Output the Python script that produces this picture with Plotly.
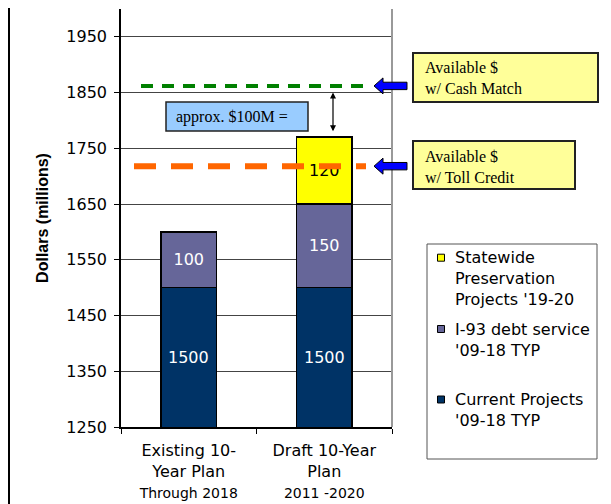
import plotly.graph_objects as go

# ---------------- data ----------------
categories = ["Existing 10-Year Plan", "Draft 10-Year Plan"]
tick_labels = [
    "Existing 10-<br>Year Plan<br><span style='font-size:14px'>Through 2018</span>",
    "Draft 10-Year<br>Plan<br><span style='font-size:14px'>2011 -2020</span>",
]
current_projects = [1500, 1500]
i93_debt_service = [100, 150]
statewide_preservation = [None, 120]

series_values = [current_projects, i93_debt_service, statewide_preservation]
series_names = ["Current Projects<br>'09-18 TYP",
                "I-93 debt service<br>'09-18 TYP",
                "Statewide<br>Preservation<br>Projects '19-20"]
series_colors = ["#003366", "#666699", "#FFFF00"]
label_colors = ["white", "white", "black"]

cash_match_level = 1862     # Available $ w/ Cash Match
toll_credit_level = 1718    # Available $ w/ Toll Credit
gap_top, gap_bottom = 1850, 1778   # approx. $100M span

y_range = [1250, 2000]
y_ticks = [1250, 1350, 1450, 1550, 1650, 1750, 1850, 1950]

# ---------------- layout geometry (page pixels) ----------------
PAGE_W, PAGE_H = 611, 504
OFF = 8                      # default body margin of the page
W, H = PAGE_W - OFF, PAGE_H - OFF
L, R, T, B = 121, 392, 9, 427   # plot area in page pixels
def px(x):
    return (x - L) / (R - L)
def py(y):
    return (B - y) / (B - T)
unit_per_px = (y_range[1] - y_range[0]) / (B - T)

SANS = "DejaVu Sans"
SERIF = "Liberation Serif"

annotations = []
shapes = []

fig = go.Figure()
cum = [0, 0]
for vals, name, col, tcol in zip(series_values, series_names, series_colors, label_colors):
    texts = []
    for i, v in enumerate(vals):
        if v is None:
            texts.append("")
            continue
        base = cum[i]
        top = base + v
        cum[i] = top
        if base >= y_range[0]:
            texts.append(str(v))          # segment fully visible: label on the bar itself
        else:
            texts.append("")              # segment clipped by the axis: label the visible part
            annotations.append(dict(x=categories[i], y=(y_range[0] + top) / 2,
                                    xref="x", yref="y", text=str(v), showarrow=False,
                                    font=dict(family=SANS, size=16, color=tcol)))
    fig.add_trace(go.Bar(
        x=categories, y=vals, name=name,
        marker=dict(color=col, line=dict(color="black", width=1.5)),
        text=texts,
        textposition="inside", insidetextanchor="middle", textangle=0,
        insidetextfont=dict(family=SANS, size=16, color=tcol),
        constraintext="none",
        showlegend=False,
    ))

# outer border (left edge kept inside the drawable area)
shapes.append(dict(type="rect", xref="paper", yref="paper",
                   x0=px(9), x1=px(610), y0=py(520), y1=py(-10),
                   line=dict(color="black", width=2), layer="above"))
# right edge of plot
shapes.append(dict(type="line", xref="paper", yref="paper", x0=1, x1=1, y0=0, y1=1,
                   line=dict(color="#999999", width=2)))

# dashed availability lines
shapes.append(dict(type="line", xref="paper", yref="y", x0=px(141), x1=px(364),
                   y0=cash_match_level, y1=cash_match_level,
                   line=dict(color="#008000", width=4, dash="12px,9px")))
shapes.append(dict(type="line", xref="paper", yref="y", x0=px(134), x1=px(366),
                   y0=toll_credit_level, y1=toll_credit_level,
                   line=dict(color="#FF6600", width=6, dash="22px,15px")))

# blue block arrows
hh = 8 * unit_per_px
bh = 3.7 * unit_per_px
for lvl in (cash_match_level, toll_credit_level):
    pts = [(px(374), lvl), (px(383), lvl + hh), (px(383), lvl + bh), (px(407), lvl + bh),
           (px(407), lvl - bh), (px(383), lvl - bh), (px(383), lvl - hh)]
    path = "M " + " L ".join(f"{x:.5f},{y:.3f}" for x, y in pts) + " Z"
    shapes.append(dict(type="path", xref="paper", yref="y", path=path,
                       fillcolor="#0000FF", line=dict(color="black", width=1)))

# callout boxes
shapes.append(dict(type="rect", xref="paper", yref="paper", x0=px(413), x1=px(598),
                   y0=py(102), y1=py(53), fillcolor="#FFFF99", line=dict(color="#222222", width=2)))
shapes.append(dict(type="rect", xref="paper", yref="paper", x0=px(413), x1=px(575),
                   y0=py(189), y1=py(141), fillcolor="#FFFF99", line=dict(color="#222222", width=2)))
shapes.append(dict(type="rect", xref="paper", yref="paper", x0=px(166), x1=px(308),
                   y0=py(131), y1=py(102), fillcolor="#99CCFF", line=dict(color="#222222", width=1.5)))

annotations.append(dict(xref="paper", yref="paper", x=px(423), y=py(78.5), xanchor="left",
                        yanchor="middle", align="left", showarrow=False,
                        text="Available $<br>w/ Cash Match",
                        font=dict(family=SERIF, size=16, color="black")))
annotations.append(dict(xref="paper", yref="paper", x=px(423), y=py(166.5), xanchor="left",
                        yanchor="middle", align="left", showarrow=False,
                        text="Available $<br>w/ Toll Credit",
                        font=dict(family=SERIF, size=16, color="black")))
annotations.append(dict(xref="paper", yref="paper", x=px(174), y=py(117), xanchor="left",
                        yanchor="middle", align="left", showarrow=False,
                        text="approx. $100M =",
                        font=dict(family=SERIF, size=16, color="black")))

# double-headed arrow
annotations.append(dict(xref="x domain", yref="y", x=px(333), y=gap_top,
                        axref="x domain", ayref="y", ax=px(333), ay=gap_bottom,
                        text="", showarrow=True, arrowhead=2, startarrowhead=2,
                        arrowside="end+start", arrowsize=1, arrowwidth=1.2,
                        arrowcolor="black", standoff=0, startstandoff=0))

# manual legend
shapes.append(dict(type="rect", xref="paper", yref="paper", x0=px(427), x1=px(597),
                   y0=py(459), y1=py(244), fillcolor="white", line=dict(color="#555555", width=1)))
legend_rows = [(2, 257.7, 279), (1, 329, 339.5), (0, 399.5, 409.5)]
for idx, sq_y, txt_y in legend_rows:
    shapes.append(dict(type="rect", xref="paper", yref="paper",
                       x0=px(437.5), x1=px(444.5), y0=py(sq_y + 3.5), y1=py(sq_y - 3.5),
                       fillcolor=series_colors[idx], line=dict(color="black", width=1)))
    annotations.append(dict(xref="paper", yref="paper", x=px(453), y=py(txt_y),
                            xanchor="left", yanchor="middle", align="left", showarrow=False,
                            text=series_names[idx],
                            font=dict(family=SANS, size=16, color="black")))

fig.update_layout(
    width=W, height=H,
    margin=dict(l=L - OFF, r=W - (R - OFF), t=T - OFF, b=H - (B - OFF), pad=0),
    paper_bgcolor="white", plot_bgcolor="white",
    barmode="stack", bargap=0.587,
    showlegend=False,
    shapes=shapes, annotations=annotations,
    font=dict(family=SANS, size=16, color="black"),
    xaxis=dict(type="category", tickvals=categories, ticktext=tick_labels,
               tickson="boundaries", ticks="outside", ticklen=5, tickcolor="black",
               showline=True, linecolor="black", linewidth=1.5, showgrid=False,
               ticklabelstandoff=8,
               tickfont=dict(family=SANS, size=16, color="black")),
    yaxis=dict(range=y_range, tickvals=y_ticks, ticks="outside", ticklen=5,
               tickcolor="black", showline=True, linecolor="black", linewidth=1.5,
               showgrid=True, gridcolor="#444444", gridwidth=1, zeroline=False,
               ticklabelstandoff=4,
               tickfont=dict(family=SANS, size=16, color="black"),
               title=dict(text="Dollars (millions)", standoff=14,
                          font=dict(family="Liberation Sans", size=16, color="black", weight="bold"))),
)

fig.write_html("out.html")
